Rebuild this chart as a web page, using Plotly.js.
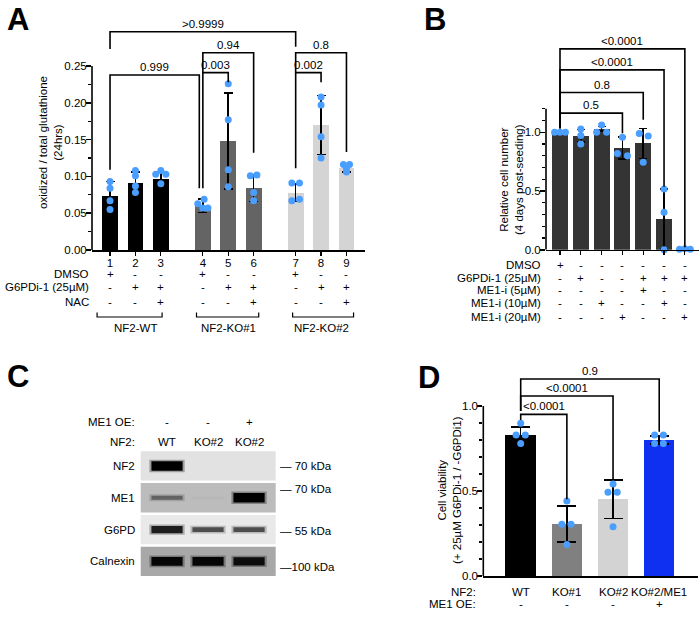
<!DOCTYPE html>
<html><head><meta charset="utf-8">
<script src="https://cdn.plot.ly/plotly-3.0.1.min.js"></script>
<style>html,body{margin:0;padding:0;background:#fff}#chart{width:700px;height:622px}</style>
</head><body><div id="chart"></div>
<script>
// ================= DATA =================
// ---- Panel A ----
const aBarLabels = ['1','2','3','4','5','6','7','8','9'];
const aGroups = ['NF2-WT','NF2-KO#1','NF2-KO#2'];
const aGroupOf = [0,0,0,1,1,1,2,2,2];
const aMeans = [0.074,0.091,0.096,0.060,0.148,0.084,0.078,0.170,0.111];
const aSD = [0.019,0.015,0.0095,0.009,0.065,0.018,0.012,0.040,0.005];
const aPoints = [
  [0.093,0.084,0.067,0.055],
  [0.108,0.101,0.087,0.078],
  [0.108,0.103,0.103,0.090],
  [0.069,0.063,0.057,0.057],
  [0.226,0.177,0.109,0.086],
  [0.101,0.102,0.078,0.067],
  [0.091,0.091,0.067,0.069],
  [0.208,0.197,0.154,0.125],
  [0.116,0.116,0.111,0.106]
];
const aRowNames = ['DMSO','G6PDi-1 (25µM)','NAC'];
const aRowSigns = [
  ['+','-','-','+','-','-','+','-','-'],
  ['-','+','+','-','+','+','-','+','+'],
  ['-','-','+','-','-','+','-','-','+']
];
const aCompFrom = [0,0,3,3,6,6];
const aCompTo = [6,3,4,5,8,7];
const aCompP = ['>0.9999','0.999','0.003','0.94','0.8','0.002'];
const aCompTop = [0.2966,0.2378,0.241,0.268,0.268,0.241];
const aCompLeftEnd = [0.273,0.109,0.084,0.241,0.241,0.111];
const aCompRightEnd = [0.276,0.084,0.228,0.132,0.133,0.228];

// ---- Panel B ----
const bRowNames = ['DMSO','G6PDi-1 (25µM)','ME1-i (5µM)','ME1-i (10µM)','ME1-i (20µM)'];
const bRowSigns = [
  ['+','-','-','-','-','-','-'],
  ['-','+','-','-','+','+','+'],
  ['-','-','-','-','+','-','-'],
  ['-','-','+','-','-','+','-'],
  ['-','-','-','+','-','-','+']
];
const bMeans = [1.0,0.97,1.03,0.866,0.906,0.261,0.005];
const bSD = [0,0.053,0.018,0.092,0.128,0.256,0.004];
const bPoints = [
  [1.0,1.0,1.0],
  [1.028,0.972,0.900],
  [1.062,1.0,1.0],
  [0.957,0.820,0.800],
  [0.990,0.969,0.744],
  [0.517,0.318,0.0],
  [0.004,0.008,0.004]
];
const bCompFrom = [0,0,0,0];
const bCompTo = [6,5,4,3];
const bCompP = ['<0.0001','<0.0001','0.8','0.5'];
const bCompTop = [1.711,1.532,1.339,1.163];
const bCompLeftEnd = [1.035,1.035,1.035,1.035];
const bCompRightEnd = [0.02,0.537,1.106,0.992];

// ---- Panel C (western blot) ----
const cLanes = ['WT','KO#2','KO#2'];
const cME1OE = ['-','-','+'];
const cProteins = ['NF2','ME1','G6PD','Calnexin'];
const cBandIntensity = [
  [1.0,0,0],
  [0.45,0.08,1.0],
  [0.8,0.55,0.55],
  [0.95,0.95,0.9]
];
const cMarkers = ['— 70 kDa','— 70 kDa','— 55 kDa','—100 kDa'];
const cMarkerRow = [0, 0.72, 2.05, 3.18];

// ---- Panel D ----
const dNF2 = ['WT','KO#1','KO#2','KO#2/ME1'];
const dME1OE = ['-','-','-','+'];
const dMeans = [0.829,0.306,0.451,0.800];
const dSD = [0.049,0.106,0.112,0.025];
const dPoints = [
  [0.898,0.829,0.829,0.780],
  [0.441,0.304,0.304,0.186],
  [0.541,0.492,0.492,0.290],
  [0.829,0.829,0.780,0.780]
];
const dCompFrom = [0,0,0];
const dCompTo = [3,2,1];
const dCompP = ['0.9','<0.0001','<0.0001'];
const dCompTop = [1.159,1.059,0.951];
const dCompLeftEnd = [0.97,0.97,0.918];
const dCompRightEnd = [0.849,0.569,0.451];

// ================= STYLE / LAYOUT =================
const FAM = 'Liberation Sans, Arial, Helvetica, sans-serif';
const FONT = {family: FAM, size: 11.5, color: '#000'};
const W = 700, H = 622;
const px = v => v / W;
const py = v => 1 - v / H;
const topRange = (v, p0, pv, pt) => v * (p0 - pt) / (p0 - pv);
const LW = 1.6;
const DOT = '#4a9eff';

// point jitter (horizontal offsets within a bar)
const aJit = [[0,0,0,0],[0,0,0,0],[0,-0.2,0.2,0],[0.05,-0.2,0,0.2],[0,0,0,0],[-0.13,0.13,0,0],[-0.15,0.15,-0.15,0.15],[0,0,0,0],[-0.12,0.12,0,0]];
const bJit = [[-0.26,0,0.26],[0,0,0],[0,-0.24,0.24],[0,-0.24,0.24],[-0.19,0.24,0],[0,0,0],[-0.26,0,0.26]];
const dJit = [[0,-0.1,0.1,0],[0,-0.11,0.09,0],[0,-0.11,0.09,0],[-0.1,0.09,-0.1,0.09]];

const traces = [], shapes = [], annotations = [];
function ann(o) { annotations.push(Object.assign({showarrow:false, font:FONT, xanchor:'center', yanchor:'middle'}, o)); }

function barPanel(p) {
  traces.push({type:'bar', x:p.xs, y:p.means, width:p.width, xaxis:p.xa, yaxis:p.ya,
    marker:{color:p.colors, line:{width:0}},
    error_y:{type:'data', array:p.sd, visible:true, color:'#000', thickness:LW, width:p.errW},
    hoverinfo:'skip'});
  const X = [], Y = [];
  p.points.forEach((arr,i) => arr.forEach((v,k) => { X.push(p.xs[i] + p.jit[i][k]); Y.push(v); }));
  traces.push({type:'scatter', mode:'markers', x:X, y:Y, xaxis:p.xa, yaxis:p.ya,
    marker:{color:DOT, size:7, line:{width:0}}, cliponaxis:false, hoverinfo:'skip'});
  const bx = [], by = [];
  p.from.forEach((f,c) => {
    const x1 = p.xs[f], x2 = p.xs[p.to[c]] + (p.shiftR ? p.shiftR[c] : 0);
    bx.push(x1,x1,x2,x2,null);
    by.push(p.left[c], p.top[c], p.top[c], p.right[c], null);
    ann({xref:p.xa, yref:p.ya, x:(x1+x2)/2, y:p.top[c], yanchor:'bottom', text:p.labels[c]});
  });
  traces.push({type:'scatter', mode:'lines', x:bx, y:by, xaxis:p.xa, yaxis:p.ya,
    line:{color:'#000', width:LW}, hoverinfo:'skip'});
  shapes.push({type:'line', xref:p.xa + ' domain', yref:p.ya, x0:0, x1:0, y0:0, y1:p.axisTop,
    line:{color:'#000', width:LW}});
}

// ---------- Panel A ----------
const aX = aBarLabels.map((_, i) => 1 + i + aGroupOf[i] * 0.655);
const aColors = ['#000000','#646464','#d4d4d4'];
const RA = topRange(0.25, 250, 66, 20);
barPanel({xa:'x', ya:'y', xs:aX, means:aMeans, sd:aSD, width:0.62, errW:4.5,
  colors:aGroupOf.map(g => aColors[g]), points:aPoints, jit:aJit,
  from:aCompFrom, to:aCompTo, labels:aCompP, top:aCompTop, left:aCompLeftEnd, right:aCompRightEnd,
  shiftR:[0,-0.14,0,0,0,0], axisTop:0.25});
const aRowY = [273.5, 287.3, 301.7];
aRowNames.forEach((n, r) => {
  ann({xref:'paper', yref:'paper', x:px(91), y:py(aRowY[r]), xanchor:'right', text:n});
  aRowSigns[r].forEach((s, i) => ann({xref:'x', yref:'paper', x:aX[i], y:py(aRowY[r]), text:s}));
});
const aGroupPad = [[-0.51,0.05],[-0.25,0.2],[-0.12,0.28]];
aGroups.forEach((g, gi) => {
  const idx = aGroupOf.map((v,i) => v === gi ? i : -1).filter(i => i >= 0);
  const x1 = aX[idx[0]] + aGroupPad[gi][0], x2 = aX[idx[idx.length-1]] + aGroupPad[gi][1];
  shapes.push({type:'path', xref:'x', yref:'paper',
    path:`M${x1},${py(312.5)} L${x1},${py(317)} L${x2},${py(317)} L${x2},${py(312.5)}`,
    line:{color:'#000', width:1.2}});
  const mid = idx.reduce((s,i) => s + aX[i], 0) / idx.length;
  ann({xref:'x', yref:'paper', x:mid, y:py(328), text:g});
});
ann({xref:'paper', yref:'paper', x:px(50), y:py(143), textangle:-90, text:'oxidized / total glutathione<br>(24hrs)'});

// ---------- Panel B ----------
const bX = bMeans.map((_, i) => i + 1);
const RB = topRange(1.0, 249.7, 132.3, 35);
barPanel({xa:'x2', ya:'y2', xs:bX, means:bMeans, sd:bSD, width:0.77, errW:4,
  colors:bMeans.map(() => '#343434'), points:bPoints, jit:bJit,
  from:bCompFrom, to:bCompTo, labels:bCompP, top:bCompTop, left:bCompLeftEnd, right:bCompRightEnd,
  axisTop:1.2});
const bRowY = [265, 277.5, 290, 303.3, 316.5];
bRowNames.forEach((n, r) => {
  ann({xref:'paper', yref:'paper', x:px(542.7), y:py(bRowY[r]), xanchor:'right', text:n});
  bRowSigns[r].forEach((s, i) => ann({xref:'x2', yref:'paper', x:bX[i], y:py(bRowY[r]), text:s}));
});
ann({xref:'paper', yref:'paper', x:px(511), y:py(180), textangle:-90, text:'Relative cell number<br>(4 days post-seeding)'});

// ---------- Panel C ----------
const cBoxFill = ['#e2e2e2','#bcbcbc','#e9e9e9','#a8a8a8'];
cProteins.forEach((prot, r) => {
  shapes.push({type:'rect', xref:'x3 domain', yref:'y3', x0:0, x1:1, y0:r - 0.46, y1:r + 0.46,
    fillcolor:cBoxFill[r], line:{width:0}, layer:'below'});
  ann({xref:'paper', yref:'y3', x:px(137), y:r, xanchor:'right', text:prot});
  cBandIntensity[r].forEach((v, l) => {
    if (v <= 0) return;
    const lane = l + 1;
    const g = Math.round(200 * Math.pow(1 - v, 1.2));
    const col = `rgb(${g},${g},${g})`;
    const thick = 1.5 + 8 * Math.pow(v, 1.5);
    traces.push({type:'scatter', mode:'lines', x:[lane - 0.43, lane + 0.43], y:[r, r], xaxis:'x3', yaxis:'y3',
      line:{color:col, width:thick + 3}, opacity:0.3, hoverinfo:'skip'});
    traces.push({type:'scatter', mode:'lines', x:[lane - 0.38, lane + 0.38], y:[r, r], xaxis:'x3', yaxis:'y3',
      line:{color:col, width:thick}, hoverinfo:'skip'});
  });
  ann({xref:'paper', yref:'y3', x:px(278), y:cMarkerRow[r], xanchor:'left', text:cMarkers[r]});
});
ann({xref:'paper', yref:'paper', x:px(137), y:py(421.7), xanchor:'right', text:'ME1 OE:'});
ann({xref:'paper', yref:'paper', x:px(137), y:py(441.7), xanchor:'right', text:'NF2:'});
cLanes.forEach((l, i) => {
  ann({xref:'x3', yref:'paper', x:i + 1, y:py(421.7), text:cME1OE[i]});
  ann({xref:'x3', yref:'paper', x:i + 1, y:py(441.7), text:l});
});

// ---------- Panel D ----------
const dX = dMeans.map((_, i) => i + 1);
const RD = topRange(1.0, 576, 406, 365);
barPanel({xa:'x4', ya:'y4', xs:dX, means:dMeans, sd:dSD, width:0.66, errW:9.5,
  colors:['#000000','#808080','#d3d3d3','#0f30f0'], points:dPoints, jit:dJit,
  from:dCompFrom, to:dCompTo, labels:dCompP, top:dCompTop, left:dCompLeftEnd, right:dCompRightEnd,
  axisTop:1.0});
ann({xref:'paper', yref:'paper', x:px(478.3), y:py(591.7), xanchor:'right', text:'NF2:'});
ann({xref:'paper', yref:'paper', x:px(478.3), y:py(604), xanchor:'right', text:'ME1 OE:'});
dNF2.forEach((n, i) => {
  ann({xref:'x4', yref:'paper', x:dX[i], y:py(591.7), text:n});
  ann({xref:'x4', yref:'paper', x:dX[i], y:py(604), text:dME1OE[i]});
});
ann({xref:'paper', yref:'paper', x:px(449), y:py(490), textangle:-90, text:'Cell viability<br>(+ 25µM G6PDi-1 / -G6PDi1)'});

// ---------- Panel letters ----------
const BIG = {family:FAM, size:31, color:'#000'};
[['A',18,19],['B',435,19],['C',18,376],['D',429,377]].forEach(([t,x,y]) =>
  ann({xref:'paper', yref:'paper', x:px(x), y:py(y), text:'<b>'+t+'</b>', font:BIG}));

// ---------- Axes ----------
const baseX = {showline:true, linewidth:LW, linecolor:'#000', showgrid:false, zeroline:false, fixedrange:true, tickfont:FONT};
const baseY = (vals, fmt, minorVals, top) => ({showline:false, showgrid:false, zeroline:false, fixedrange:true,
  ticks:'outside', ticklen:5, tickwidth:LW, tickcolor:'#000', tickfont:FONT, ticklabelstandoff:-3,
  tickmode:'array', tickvals:vals, ticktext:vals.map(v => v.toFixed(fmt)), range:[0, top],
  minor:{tickmode:'array', tickvals:minorVals, ticks:'outside', ticklen:3, tickwidth:1.2, tickcolor:'#000'}});

const layout = {
  width:W, height:H, margin:{l:0,r:0,t:0,b:0}, showlegend:false,
  paper_bgcolor:'#fff', plot_bgcolor:'rgba(0,0,0,0)', font:FONT, hovermode:false,
  bargap:0,
  xaxis: Object.assign({}, baseX, {domain:[px(92),px(365)], range:[0.29,11.04], anchor:'y',
    ticks:'outside', ticklen:4, tickwidth:1.2, tickcolor:'#000', tickmode:'array', tickvals:aX, ticktext:aBarLabels,
    ticklabelstandoff:-2}),
  yaxis: Object.assign(baseY([0,0.05,0.10,0.15,0.20,0.25], 2, [0.025,0.075,0.125,0.175,0.225], RA),
    {domain:[py(250),py(20)], anchor:'x'}),
  xaxis2: Object.assign({}, baseX, {domain:[px(546),px(699)], range:[0.327,7.68], anchor:'y2',
    ticks:'outside', ticklen:4, tickwidth:1.2, tickcolor:'#000', tickmode:'array', tickvals:bX, showticklabels:false}),
  yaxis2: Object.assign(baseY([0,0.5,1.0], 1, [0.1,0.2,0.3,0.4,0.6,0.7,0.8,0.9,1.1,1.2], RB),
    {domain:[py(249.7),py(35)], anchor:'x2'}),
  xaxis3: {domain:[px(140.7),px(275.7)], range:[0.358,3.65], anchor:'y3', visible:false, fixedrange:true},
  yaxis3: {domain:[py(577.3),py(450)], range:[3.5,-0.5], anchor:'x3', visible:false, fixedrange:true},
  xaxis4: Object.assign({}, baseX, {domain:[px(483.3),px(698)], range:[0.19,4.84], anchor:'y4',
    ticks:'', showticklabels:false}),
  yaxis4: Object.assign(baseY([0,0.5,1.0], 1, [0.1,0.2,0.3,0.4,0.6,0.7,0.8,0.9], RD),
    {domain:[py(576),py(365)], anchor:'x4'}),
  shapes:shapes, annotations:annotations
};

Plotly.newPlot('chart', traces, layout, {staticPlot:true, displayModeBar:false});
</script>
</body></html>
